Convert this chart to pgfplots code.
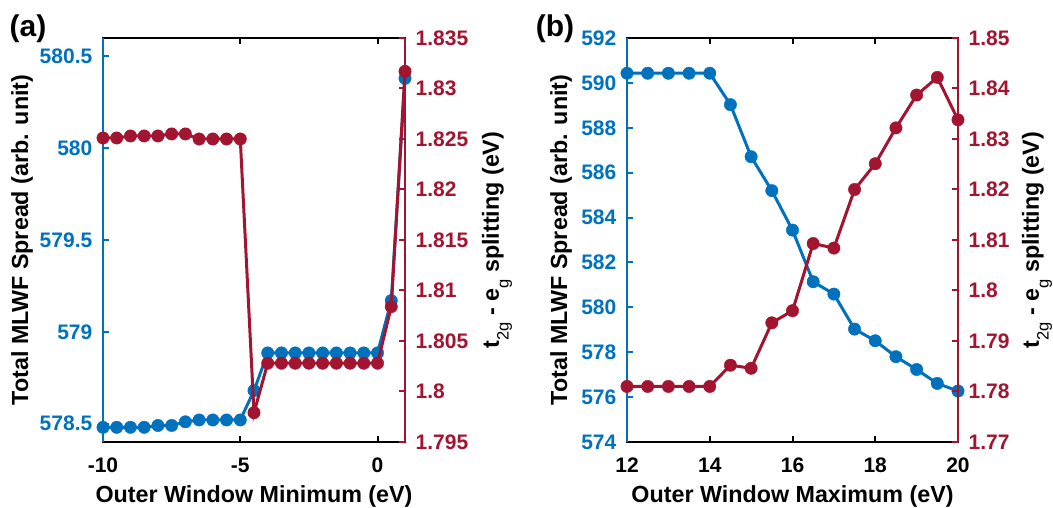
\documentclass[border=0pt]{standalone}
\usepackage{fontspec}
\setmainfont{Liberation Sans}
\usepackage{pgfplots}
\pgfplotsset{compat=1.18}
\definecolor{mblue}{HTML}{0072BD}
\definecolor{mred}{HTML}{A2142F}
\newcommand\tfont{\fontsize{21}{25}\selectfont\bfseries}
\newcommand\lfont{\fontsize{23.3}{28}\selectfont\bfseries}
\newcommand\sub[1]{\raisebox{-0.42em}{\fontsize{16.5}{17}\selectfont\mdseries #1}}
\pgfplotsset{
  common/.style={
    scale only axis, height=404pt, anchor=south west,
    enlargelimits=false, clip=false,
    tick align=inside, major tick length=6pt,
    xtick style={black, line width=2pt},
    axis line style={line width=2.5pt},
    xticklabel style={font=\tfont, inner sep=0pt, text=black},
    xticklabel shift=16pt,
    yticklabel style={font=\tfont, inner sep=0pt},
    yticklabel shift=10.5pt,
    label style={font=\lfont},
    xlabel style={at={(axis description cs:0.5,-0.134)}, anchor=center},
  },
  leftax/.style={common, ytick pos=left, xtick pos=both,
    ytick style={mblue, line width=2pt},
    yticklabel style={text=mblue}},
  rightax/.style={common, axis x line=none, axis y line*=right,
    y axis line style={mred, line width=2.5pt, -},
    ytick style={mred, line width=2pt},
    yticklabel style={text=mred}},
  bser/.style={mblue, line width=3pt, mark=*, mark size=6.2pt, mark options={line width=0.4pt, fill=mblue}},
  rser/.style={mred, line width=3pt, mark=*, mark size=6.2pt, mark options={line width=0.4pt, fill=mred}},
}
\begin{document}
\begin{tikzpicture}
\useasboundingbox (0,0) rectangle (1053pt,508pt);
% ---------------- panel (a) ----------------
\begin{axis}[leftax, at={(103pt,66pt)}, width=302pt,
  xmin=-10, xmax=1, ymin=578.4, ymax=580.6,
  xtick={-10,-5,0}, xticklabels={-10,-5,0},
  ytick={578.5,579,579.5,580,580.5}, yticklabels={578.5,579,579.5,580,580.5},
  xlabel={Outer Window Minimum (eV)},
  ylabel={Total MLWF Spread (arb. unit)},
  ylabel style={at={(axis description cs:-0.268,0.5)}, anchor=center}]
\addplot[bser] coordinates {
(-10,578.48) (-9.5,578.48) (-9,578.48) (-8.5,578.48) (-8,578.49) (-7.5,578.49)
(-7,578.51) (-6.5,578.52) (-6,578.52) (-5.5,578.52) (-5,578.52)
(-4.5,578.68) (-4,578.885) (-3.5,578.885) (-3,578.885) (-2.5,578.885) (-2,578.885)
(-1.5,578.885) (-1,578.885) (-0.5,578.885) (0,578.885) (0.5,579.17) (1,580.38)};
\draw[mblue, line width=2.5pt] (rel axis cs:0,0) -- (rel axis cs:0,1);
\end{axis}
\begin{axis}[rightax, at={(103pt,66pt)}, width=302pt,
  xmin=-10, xmax=1, ymin=1.795, ymax=1.835,
  ytick={1.795,1.8,1.805,1.81,1.815,1.82,1.825,1.83,1.835},
  yticklabels={1.795,1.8,1.805,1.81,1.815,1.82,1.825,1.83,1.835},
  ylabel={t\sub{2g} - e\sub{g} splitting (eV)},
  ylabel style={at={(axis description cs:1.305,0.5)}, anchor=center}]
\addplot[rser] coordinates {
(-10,1.8251) (-9.5,1.8251) (-9,1.8253) (-8.5,1.8253) (-8,1.8253) (-7.5,1.8255)
(-7,1.8255) (-6.5,1.8250) (-6,1.8250) (-5.5,1.8250) (-5,1.8250)
(-4.5,1.7979) (-4,1.8028) (-3.5,1.8028) (-3,1.8028) (-2.5,1.8028) (-2,1.8028)
(-1.5,1.8028) (-1,1.8028) (-0.5,1.8028) (0,1.8028) (0.5,1.8084) (1,1.8317)};
\end{axis}
% ---------------- panel (b) ----------------
\begin{axis}[leftax, at={(627pt,66pt)}, width=331pt,
  xmin=12, xmax=20, ymin=574, ymax=592,
  xtick={12,14,16,18,20}, xticklabels={12,14,16,18,20},
  ytick={574,576,...,592}, yticklabels={574,576,578,580,582,584,586,588,590,592},
  xlabel={Outer Window Maximum (eV)},
  ylabel={Total MLWF Spread (arb. unit)},
  ylabel style={at={(axis description cs:-0.199,0.5)}, anchor=center}]
\addplot[bser] coordinates {
(12,590.43) (12.5,590.43) (13,590.43) (13.5,590.43) (14,590.43)
(14.5,589.03) (15,586.71) (15.5,585.2) (16,583.44) (16.5,581.14) (17,580.59)
(17.5,579.03) (18,578.51) (18.5,577.8) (19,577.23) (19.5,576.61) (20,576.27)};
\draw[mblue, line width=2.5pt] (rel axis cs:0,0) -- (rel axis cs:0,1);
\end{axis}
\begin{axis}[rightax, at={(627pt,66pt)}, width=331pt,
  xmin=12, xmax=20, ymin=1.77, ymax=1.85,
  ytick={1.77,1.78,1.79,1.8,1.81,1.82,1.83,1.84,1.85},
  yticklabels={1.77,1.78,1.79,1.8,1.81,1.82,1.83,1.84,1.85},
  ylabel={t\sub{2g} - e\sub{g} splitting (eV)},
  ylabel style={at={(axis description cs:1.239,0.5)}, anchor=center}]
\addplot[rser] coordinates {
(12,1.7810) (12.5,1.7810) (13,1.7810) (13.5,1.7810) (14,1.7810)
(14.5,1.7852) (15,1.7846) (15.5,1.7936) (16,1.7960) (16.5,1.8093) (17,1.8084)
(17.5,1.8200) (18,1.8251) (18.5,1.8322) (19,1.8387) (19.5,1.8422) (20,1.8338)};
\end{axis}
\node[font=\fontsize{30}{36}\selectfont\bfseries] at (28pt,479.5pt) {(a)};
\node[font=\fontsize{30}{36}\selectfont\bfseries] at (555pt,479pt) {(b)};
\end{tikzpicture}
\end{document}
